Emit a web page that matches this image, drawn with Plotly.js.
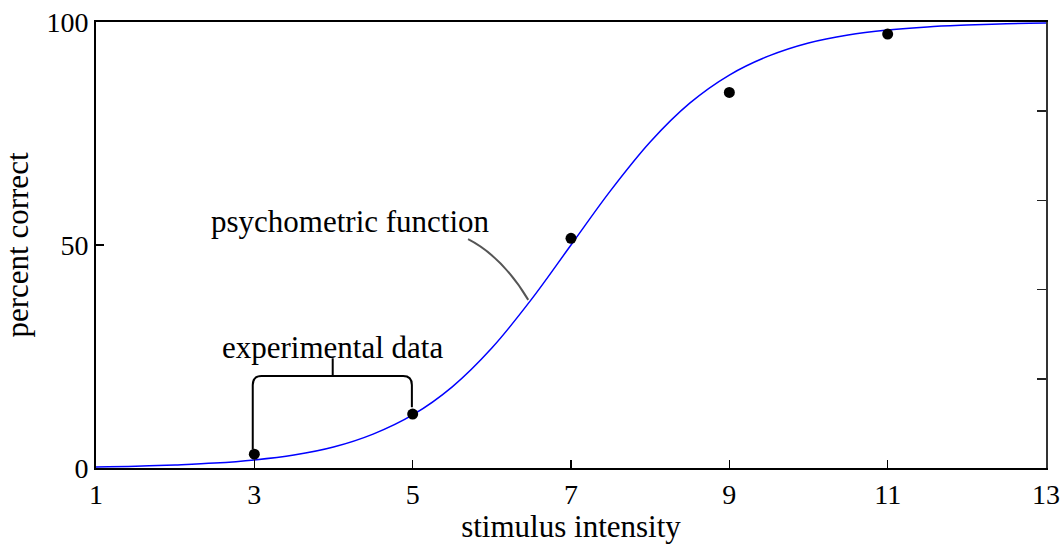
<!DOCTYPE html>
<html>
<head>
<meta charset="utf-8">
<script src="https://cdn.plot.ly/plotly-3.0.1.min.js"></script>
<style>html,body{margin:0;padding:0;background:#fff;}#chart{width:1062px;height:544px;}</style>
</head>
<body>
<div id="chart"></div>
<script>
// Fitted psychometric curve
const curveX = [1, 1.5, 2, 2.5, 3, 3.5, 4, 4.5, 5, 5.5, 6, 6.5, 7, 7.5, 8, 8.5, 9, 9.5, 10, 10.5, 11, 11.5, 12, 12.5, 13];
const curveY = [0.25, 0.4, 0.7, 1.1, 1.8, 2.9, 4.7, 7.6, 11.9, 18.2, 26.9, 37.8, 50, 62.2, 73.1, 81.8, 88.1, 92.4, 95.3, 97.1, 98.2, 98.9, 99.3, 99.6, 99.75];
// Experimental data points
const dataX = [3, 5, 7, 9, 11];
const dataY = [3.1, 12.1, 51.5, 84.2, 97.3];
// Tick values
const xTicks = [1, 3, 5, 7, 9, 11, 13];
const yTicks = [0, 50, 100];
const yRightTicks = [20, 40, 60, 80];

const FONT = "'Liberation Serif', 'DejaVu Serif', serif";

const traces = [
  {x: curveX, y: curveY, type: 'scatter', mode: 'lines', line: {color: '#0000ff', width: 1.5, shape: 'spline'}, hoverinfo: 'skip'},
  {x: dataX, y: dataY, type: 'scatter', mode: 'markers', marker: {color: '#000', size: 11}, hoverinfo: 'skip'},
  {x: dataX, y: dataY, type: 'scatter', mode: 'markers', yaxis: 'y2', marker: {opacity: 0}, hoverinfo: 'skip'}
];

const layout = {
  width: 1062, height: 544,
  margin: {l: 96, r: 16, t: 22, b: 76},
  paper_bgcolor: '#fff', plot_bgcolor: '#fff',
  showlegend: false,
  font: {family: FONT, size: 28, color: '#000'},
  xaxis: {
    range: [1, 13], tickvals: xTicks, ticktext: xTicks.map(String),
    ticks: 'inside', ticklen: 8, tickwidth: 1.5, tickcolor: '#000',
    showline: true, linecolor: '#000', linewidth: 2, mirror: true,
    showgrid: false, zeroline: false,
    tickfont: {family: FONT, size: 28},
    title: {text: 'stimulus intensity', font: {family: FONT, size: 31}, standoff: 2}
  },
  yaxis: {
    range: [0, 100], tickvals: yTicks, ticktext: yTicks.map(String),
    ticks: 'inside', ticklen: 8, tickwidth: 1.5, tickcolor: '#000',
    showline: true, linecolor: '#000', linewidth: 2,
    showgrid: false, zeroline: false,
    tickfont: {family: FONT, size: 28},
    title: {text: 'percent correct', font: {family: FONT, size: 31}, standoff: 10}
  },
  yaxis2: {
    range: [0, 100], overlaying: 'y', side: 'right',
    tickvals: yRightTicks, showticklabels: false,
    ticks: 'inside', ticklen: 9, tickwidth: 1.5, tickcolor: '#222',
    showline: true, linecolor: '#333', linewidth: 2,
    showgrid: false, zeroline: false
  },
  shapes: [
    // bracket
    {type: 'path', xref: 'x', yref: 'y',
     path: 'M 2.98,4.2 L 2.98,18.6 Q 2.98,20.6 3.09,20.6 L 4.88,20.6 Q 4.99,20.6 4.99,18.6 L 4.99,13.6',
     line: {color: '#000', width: 2}},
    {type: 'path', xref: 'x', yref: 'y', path: 'M 3.99,20.6 L 3.99,24.6', line: {color: '#000', width: 2}},
    // arrow curve to the function
    {type: 'path', xref: 'x', yref: 'y',
     path: 'M 5.70,51.3 Q 6.13,47.4 6.46,37.7',
     line: {color: '#555', width: 2}}
  ],
  annotations: [
    {x: 3.99, y: 27.0, xref: 'x', yref: 'y', text: 'experimental data', showarrow: false, font: {family: FONT, size: 31, color: '#000'}},
    {x: 4.21, y: 55.2, xref: 'x', yref: 'y', text: 'psychometric function', showarrow: false, font: {family: FONT, size: 31, color: '#000'}}
  ]
};

Plotly.newPlot('chart', traces, layout, {displayModeBar: false, staticPlot: true});
</script>
</body>
</html>
